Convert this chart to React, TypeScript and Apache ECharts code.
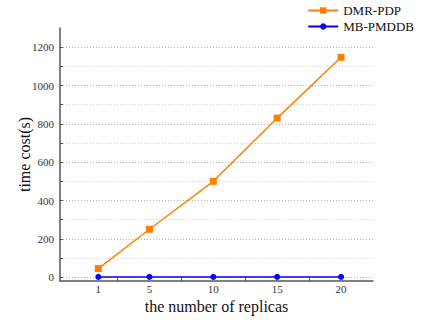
import React, { useEffect, useRef } from "react";
import * as echarts from "echarts";

const replicas = [1, 5, 10, 15, 20];
const dmrPdp = [45, 250, 500, 830, 1147];
const mbPmddb = [1.5, 1.5, 1.5, 1.5, 1.5];
const xLabelValues = [1, 5, 10, 15, 20];
const xTickValues = [2.5, 7.5, 12.5, 17.5];
const yLabelValues = [0, 200, 400, 600, 800, 1000, 1200];
const yTickValues = [0, 100, 200, 300, 400, 500, 600, 700, 800, 900, 1000, 1100, 1200];

export default function App() {
  const ref = useRef<HTMLDivElement>(null);
  useEffect(() => {
    if (!ref.current) return;
    const chart = echarts.init(ref.current, null, { renderer: "svg" });
    const serif = "'Liberation Serif', 'DejaVu Serif', serif";
    chart.setOption({
      animation: false,
      backgroundColor: "#fff",
      grid: {
        left: 60,
        right: 49,
        top: 28,
        bottom: 39,
        containLabel: false,
        outerBoundsMode: "none",
      },
      legend: {
        right: 3,
        top: -1,
        orient: "vertical",
        itemWidth: 30,
        itemHeight: 8,
        itemGap: 3,
        textStyle: { fontFamily: serif, fontSize: 13, color: "#111" },
        data: ["DMR-PDP", "MB-PMDDB"],
      },
      xAxis: {
        type: "value",
        min: -2,
        max: 22.5,
        name: "the number of replicas",
        nameLocation: "middle",
        nameGap: 17,
        nameMoveOverlap: false,
        nameTextStyle: { fontFamily: serif, fontSize: 16, color: "#111" },
        axisLine: { show: true, onZero: false, lineStyle: { color: "#555", width: 1.5 } },
        axisTick: {
          show: true,
          inside: true,
          length: 4,
          customValues: xTickValues,
          lineStyle: { color: "#555" },
        },
        axisLabel: {
          customValues: xLabelValues,
          fontFamily: serif,
          fontSize: 11,
          color: "#333",
          margin: 2,
          formatter: (v: number) => String(v),
        },
        splitLine: { show: false },
      },
      yAxis: {
        type: "value",
        min: -20,
        max: 1300,
        name: "time cost(s)",
        nameLocation: "middle",
        nameRotate: 90,
        nameGap: 28,
        nameMoveOverlap: false,
        nameTextStyle: { fontFamily: serif, fontSize: 16, color: "#111" },
        axisLine: { show: true, onZero: false, lineStyle: { color: "#555", width: 1.5 } },
        axisTick: {
          show: true,
          inside: true,
          length: 3,
          customValues: yTickValues,
          lineStyle: { color: "#555" },
        },
        axisLabel: {
          customValues: yLabelValues,
          fontFamily: serif,
          fontSize: 11,
          color: "#333",
          margin: 6,
          formatter: (v: number) => String(v),
        },
        splitLine: {
          show: true,
          lineStyle: { color: ["#b5b5b5", "#d0d0d0"], type: [1, 2], width: 1 },
        },
      },
      series: [
        {
          name: "DMR-PDP",
          type: "line",
          data: replicas.map((x, i) => [x, dmrPdp[i]]),
          symbol: "rect",
          symbolSize: 7,
          color: "#ff8000",
          lineStyle: { width: 1.5, color: "#ff8000" },
          itemStyle: { color: "#ff8000" },
        },
        {
          name: "MB-PMDDB",
          type: "line",
          data: replicas.map((x, i) => [x, mbPmddb[i]]),
          symbol: "circle",
          symbolSize: 6,
          color: "#0000ff",
          lineStyle: { width: 1.5, color: "#0000ff" },
          itemStyle: { color: "#0000ff" },
        },
      ],
    });
    return () => chart.dispose();
  }, []);
  return <div ref={ref} style={{ width: 422, height: 320, position: "absolute", left: 0, top: 0 }} />;
}
